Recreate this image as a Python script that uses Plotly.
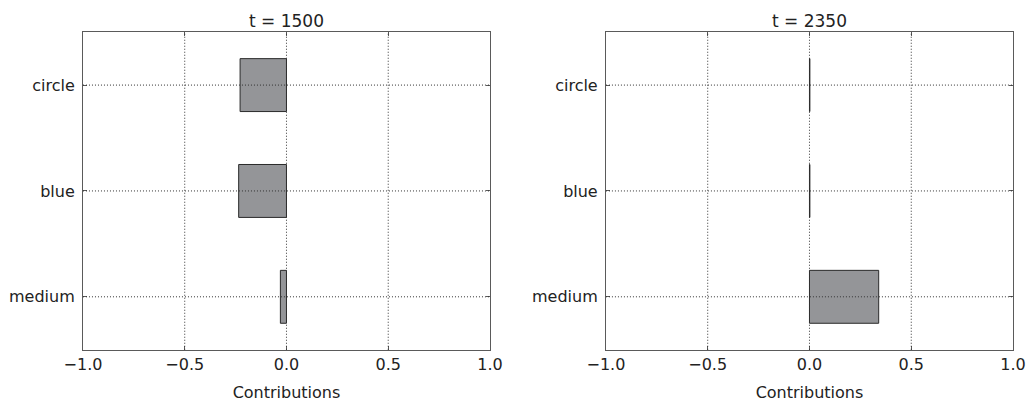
import plotly.graph_objects as go

categories = ["medium", "blue", "circle"]
titles = ["t = 1500", "t = 2350"]
values_t1500 = [-0.03, -0.235, -0.228]
values_t2350 = [0.34, 0.002, 0.002]
x_ticks = [-1.0, -0.5, 0.0, 0.5, 1.0]

BAR = "#949598"
EDGE = "#2a2a2a"
FRAME = "#5a5a5a"
GRID = "#333333"
TXT = "#222222"
FONT = "DejaVu Sans"

fig = go.Figure()
series = [values_t1500, values_t2350]
domains_x = [[0.0808, 0.4771], [0.5900, 0.9864]]
dom_y = [0.130, 0.920]

for i, vals in enumerate(series):
    sfx = "" if i == 0 else str(i + 1)
    fig.add_trace(go.Bar(
        x=vals, y=categories, orientation="h", width=0.5,
        marker=dict(color=BAR, line=dict(color=EDGE, width=1)),
        xaxis="x" + sfx, yaxis="y" + sfx, showlegend=False,
    ))
    ax = dict(
        domain=domains_x[i], range=[-1, 1], tickvals=x_ticks,
        tickformat=".1f", ticks="inside", ticklen=4, tickcolor=FRAME,
        showline=True, linecolor=FRAME, linewidth=1, mirror="ticks",
        showgrid=False, zeroline=False, automargin=False,
        tickfont=dict(family=FONT, size=16, color=TXT),
        title=dict(text="Contributions", font=dict(family=FONT, size=16, color=TXT), standoff=14),
        anchor="y" + sfx,
    )
    ay = dict(
        domain=dom_y, type="category", categoryarray=categories,
        range=[-0.5, 2.5], ticks="inside", ticklen=4, tickcolor=FRAME,
        showline=True, linecolor=FRAME, linewidth=1, mirror="ticks",
        showgrid=False, zeroline=False, automargin=False,
        tickfont=dict(family=FONT, size=16, color=TXT),
        anchor="x" + sfx, ticklabelstandoff=4,
    )
    fig.update_layout(**{"xaxis" + sfx: ax, "yaxis" + sfx: ay})
    # dotted grid drawn above bars
    for xv in x_ticks[1:-1]:
        fig.add_shape(type="line", xref="x" + sfx, yref="y" + sfx + " domain",
                      x0=xv, x1=xv, y0=0, y1=1, layer="above",
                      line=dict(color=GRID, width=1, dash="1px,2px"))
    for k in range(len(categories)):
        fig.add_shape(type="line", xref="x" + sfx + " domain", yref="y" + sfx,
                      x0=0, x1=1, y0=k, y1=k, layer="above",
                      line=dict(color=GRID, width=1, dash="1px,2px"))
    fig.add_annotation(text=titles[i], xref="x" + sfx + " domain", yref="y" + sfx + " domain",
                       x=0.5, y=1.0, yshift=-1, xanchor="center", yanchor="bottom",
                       showarrow=False, font=dict(family=FONT, size=17, color=TXT))

fig.update_layout(
    width=1027, height=402, margin=dict(l=0, r=0, t=0, b=0),
    paper_bgcolor="white", plot_bgcolor="white", bargap=0.5,
)

fig.write_html("out.html")
